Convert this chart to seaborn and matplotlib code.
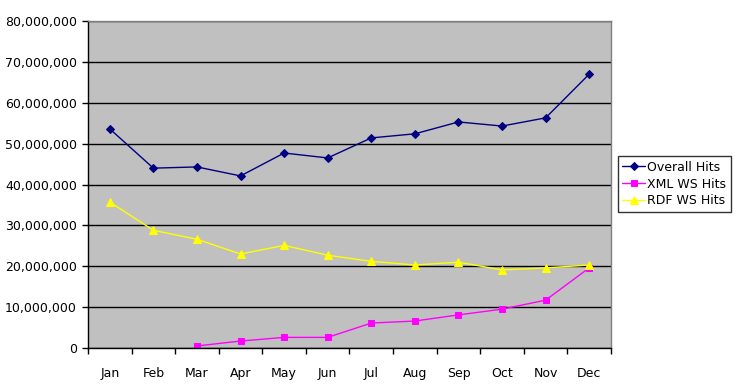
import numpy as np
import pandas as pd
import seaborn as sns
import matplotlib.pyplot as plt
from matplotlib.ticker import FuncFormatter, FixedLocator

months = ["Jan", "Feb", "Mar", "Apr", "May", "Jun", "Jul", "Aug", "Sep", "Oct", "Nov", "Dec"]
overall = [53.6, 44.0, 44.3, 42.1, 47.7, 46.5, 51.4, 52.4, 55.3, 54.3, 56.3, 67.0]
xml_ws = [np.nan, np.nan, 0.5, 1.7, 2.6, 2.6, 6.1, 6.6, 8.1, 9.5, 11.7, 19.6]
rdf_ws = [35.7, 28.8, 26.6, 23.0, 25.1, 22.7, 21.2, 20.3, 21.0, 19.1, 19.6, 20.3]

series = ["Overall Hits", "XML WS Hits", "RDF WS Hits"]
colors = ["#000080", "#FF00FF", "#FFFF00"]
marks = ["D", "s", "^"]
msizes = [4.5, 5, 6]

rows = []
for name, vals in zip(series, [overall, xml_ws, rdf_ws]):
    for i, v in enumerate(vals):
        rows.append({"month": i, "hits": v * 1e6, "series": name})
df = pd.DataFrame(rows)

sns.set_style("white")
plt.rcParams["font.family"] = ["DejaVu Sans"]
plt.rcParams["text.color"] = "black"
plt.rcParams["xtick.color"] = "black"
plt.rcParams["ytick.color"] = "black"

fig = plt.figure(figsize=(7.35, 3.87), dpi=100)
ax = fig.add_axes([88 / 735, 39 / 387, 523 / 735, 327 / 387])
ax.set_facecolor("#C0C0C0")

sns.lineplot(data=df, x="month", y="hits", hue="series", style="series",
             palette=colors, markers=marks, dashes=False, hue_order=series,
             style_order=series, linewidth=1, ax=ax)
for line, c, ms in zip(ax.lines, colors, msizes):
    line.set_markeredgecolor(c)
    line.set_markersize(ms)

ax.set_xlim(-0.5, 11.5)
ax.set_ylim(0, 80e6)
ax.set_yticks(np.arange(0, 80e6 + 1, 10e6))
ax.yaxis.set_major_formatter(FuncFormatter(lambda v, p: f"{int(v):,}"))
ax.grid(axis="y", color="black", linewidth=1)
ax.set_axisbelow(True)

ax.set_xticks(range(12))
ax.set_xticklabels(months)
ax.xaxis.set_minor_locator(FixedLocator(np.arange(-0.5, 12, 1)))
ax.tick_params(axis="x", which="major", length=0, pad=14, labelsize=9)
ax.tick_params(axis="x", which="minor", length=4, width=1, color="black", direction="out")
ax.tick_params(axis="y", length=4, width=1, color="black", direction="out", labelsize=9, pad=4)
ax.tick_params(bottom=True, left=True, which="both")
ax.set_xlabel("")
ax.set_ylabel("")

ax.spines["left"].set_color("black")
ax.spines["bottom"].set_color("black")
ax.spines["top"].set_color("#808080")
ax.spines["right"].set_color("#808080")
for s in ax.spines.values():
    s.set_linewidth(1)

handles, labels = ax.get_legend_handles_labels()
for h, c, ms in zip(handles, colors, msizes):
    h.set_markeredgecolor(c)
    h.set_markersize(ms)
leg = ax.legend(handles, labels, loc="center left", bbox_to_anchor=(618 / 735, 203 / 387),
                bbox_transform=fig.transFigure, frameon=True, fancybox=False,
                edgecolor="black", fontsize=9, handlelength=1.8, handletextpad=0.2,
                borderpad=0.35, labelspacing=0.3, borderaxespad=0)
leg.get_frame().set_linewidth(1)

fig.savefig("out.png", dpi=100, facecolor="white")
